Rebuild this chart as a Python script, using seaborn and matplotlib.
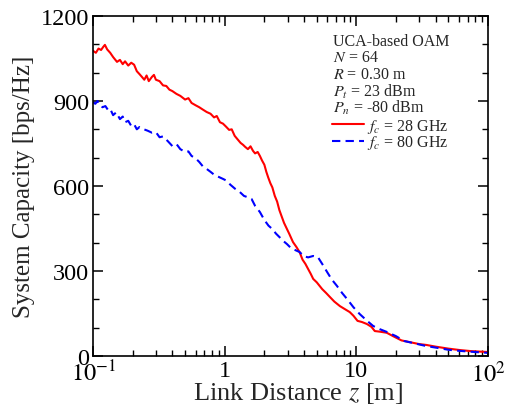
import matplotlib
matplotlib.use("Agg")
import matplotlib.pyplot as plt
import seaborn as sns
import pandas as pd
from matplotlib.ticker import FixedLocator, MultipleLocator, LogLocator, NullFormatter
from matplotlib.lines import Line2D

z_28 = [0.100, 0.105, 0.110, 0.115, 0.120, 0.123, 0.128, 0.135, 0.142, 0.152, 0.160, 0.168, 0.175, 0.185,
        0.195, 0.205, 0.215, 0.225, 0.235, 0.245, 0.255, 0.265, 0.28, 0.29, 0.30, 0.32, 0.34, 0.36, 0.38,
        0.40, 0.43, 0.46, 0.50, 0.53, 0.56, 0.60, 0.64, 0.68, 0.73, 0.78, 0.83, 0.87, 0.92, 0.97, 1.02,
        1.08, 1.13, 1.19, 1.25, 1.32, 1.38, 1.43, 1.50, 1.57, 1.64, 1.70, 1.78, 1.85, 1.92, 2.00, 2.07,
        2.14, 2.22, 2.30, 2.40, 2.50, 2.60, 2.70, 2.82, 2.97, 3.1, 3.3, 3.5, 3.7, 3.9, 4.1, 4.3, 4.5, 4.7,
        5.0, 5.5, 5.9, 6.3, 6.8, 7.5, 8.2, 8.9, 9.5, 10.2, 11, 12, 13, 13.8, 15, 17, 19, 22, 26, 30, 34,
        40, 50, 61, 75, 100]
cap_28 = [1077, 1070, 1085, 1080, 1092, 1098, 1082, 1070, 1055, 1038, 1045, 1030, 1040, 1025,
          1035, 1028, 1005, 995, 985, 975, 990, 970, 985, 992, 975, 970, 955, 953, 940,
          935, 925, 918, 905, 910, 893, 885, 878, 870, 861, 855, 842, 847, 825, 820, 810,
          798, 800, 777, 765, 752, 745, 738, 730, 740, 724, 715, 720, 706, 690, 675, 650,
          630, 610, 595, 565, 545, 515, 494, 470, 448, 430, 402, 385, 367, 340, 325, 307, 290, 272,
          260, 236, 222, 208, 192, 176, 165, 155, 142, 124, 120, 113, 103, 88, 86, 82, 70, 55, 48, 42, 39,
          33, 26, 21, 17, 14]

z_80 = [0.100, 0.104, 0.108, 0.112, 0.118, 0.124, 0.130, 0.135, 0.142, 0.150, 0.160, 0.168, 0.175, 0.185,
        0.195, 0.205, 0.215, 0.225, 0.24, 0.26, 0.28, 0.30, 0.32, 0.34, 0.37, 0.40, 0.43, 0.46, 0.50,
        0.53, 0.56, 0.60, 0.64, 0.68, 0.73, 0.78, 0.83, 0.90, 0.97, 1.04, 1.10, 1.20, 1.30, 1.40, 1.50,
        1.60, 1.70, 1.85, 2.00, 2.15, 2.30, 2.45, 2.60, 2.80, 2.97, 3.2, 3.5, 3.7, 4.0, 4.3, 4.7, 5.1,
        5.5, 6.0, 6.5, 7.1, 7.8, 8.5, 9.5, 10.6, 12, 13.4, 15, 17, 20, 23, 28, 34, 42, 50, 61, 80, 100]
cap_80 = [896, 890, 900, 885, 878, 882, 868, 872, 850, 860, 836, 845, 825, 830,
          812, 818, 800, 808, 801, 795, 788, 790, 772, 775, 758, 741, 748, 730, 720,
          722, 706, 698, 685, 670, 660, 650, 640, 632, 625, 618, 605, 590, 579, 565, 560,
          554, 530, 508, 480, 460, 448, 432, 420, 405, 395, 380, 372, 367, 352, 348, 353, 349,
          325, 296, 270, 248, 222, 201, 172, 148, 125, 106, 95, 85, 70, 53, 44, 35, 28, 22, 18, 14, 11]

x_ticks = [0.1, 1, 10, 100]
x_tick_labels = ["$10^{-1}$", "1", "10", "$10^{2}$"]
y_ticks = [0, 300, 600, 900, 1200]

info_lines = ["UCA-based OAM", "$N$ = 64", "$R$ = 0.30 m", "$P_t$ = 23 dBm", "$P_n$ = -80 dBm"]
series_labels = ["$f_c$ = 28 GHz", "$f_c$ = 80 GHz"]

sns.set_style("ticks")
plt.rcParams['font.family'] = ['Liberation Serif', 'DejaVu Serif']
plt.rcParams['mathtext.fontset'] = 'stix'

fig = plt.figure(figsize=(5.17, 4.14), dpi=100)
ax = fig.add_axes([0.180, 0.1377, 0.764, 0.8213])

df28 = pd.DataFrame({"z": z_28, "cap": cap_28})
df80 = pd.DataFrame({"z": z_80, "cap": cap_80})
sns.lineplot(data=df28, x="z", y="cap", ax=ax, color="#ff0000", linewidth=1.5, estimator=None, sort=False)
sns.lineplot(data=df80, x="z", y="cap", ax=ax, color="#0000ff", linewidth=1.5, estimator=None, sort=False,
             linestyle=(0, (4, 2.5)))

ax.set_xscale("log")
ax.set_xlim(0.1, 100)
ax.set_ylim(0, 1200)
ax.xaxis.set_major_locator(FixedLocator(x_ticks))
ax.set_xticklabels(x_tick_labels)
ax.xaxis.set_minor_locator(LogLocator(base=10, subs=range(2, 10)))
ax.xaxis.set_minor_formatter(NullFormatter())
ax.set_yticks(y_ticks)
ax.yaxis.set_minor_locator(MultipleLocator(100))

for s in ax.spines.values():
    s.set_linewidth(1.2)
    s.set_color("black")
ax.tick_params(which="both", direction="in", top=True, right=True, labelsize=17.5, colors="black")
ax.tick_params(which="major", length=7, width=1.1, pad=3)
ax.tick_params(which="minor", length=4, width=1.0)

ax.set_xlabel("Link Distance $z$ [m]", fontsize=19, labelpad=0)
ax.xaxis.set_label_coords(0.518, -0.072)
ax.set_ylabel("System Capacity [bps/Hz]", fontsize=18, labelpad=4)

for i, t in enumerate(info_lines):
    ax.text(0.608, 0.950 - i * 0.048, t, transform=ax.transAxes, fontsize=11.5, va="top", ha="left")

handles = [Line2D([], [], color="#ff0000", linewidth=1.5),
           Line2D([], [], color="#0000ff", linewidth=1.5, linestyle=(0, (4, 2.5)))]
ax.legend(handles, series_labels, loc="upper left", bbox_to_anchor=(0.59, 0.722), frameon=False,
          fontsize=11.5, handlelength=2.0, handletextpad=0.15, labelspacing=-0.1, borderaxespad=0)

fig.savefig("out.png", dpi=100)
